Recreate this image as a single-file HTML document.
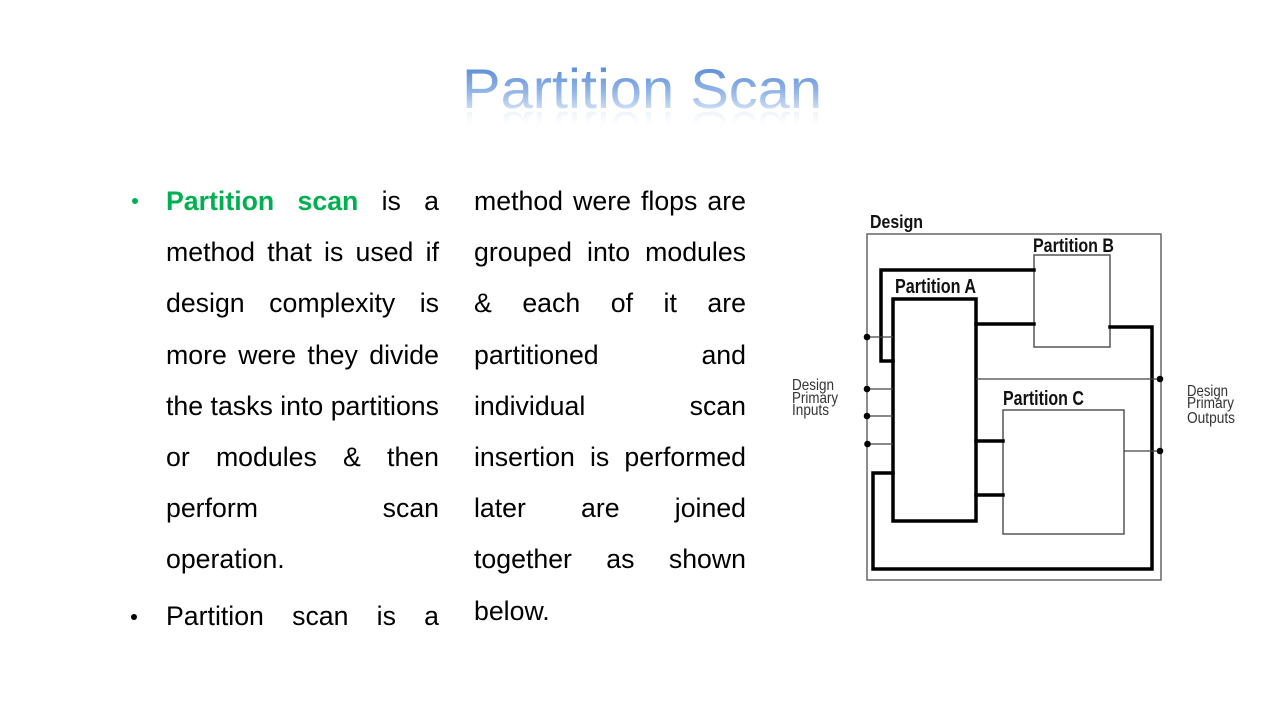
<!DOCTYPE html>
<html>
<head>
<meta charset="utf-8">
<style>
  html, body { margin: 0; padding: 0; }
  body { width: 1280px; height: 720px; background: #ffffff; position: relative; overflow: hidden;
         font-family: "Liberation Sans", Arial, sans-serif; }
  .col { position: absolute; font-size: 26.7px; line-height: 51.2px; color: #000; }
  .ln { display: block; white-space: nowrap; text-align: justify; text-align-last: justify; }
  .ln.last { text-align: left; text-align-last: left; }
  .g { color: #00b050; font-weight: bold; }
  .dot { position: absolute; width: 6.5px; height: 6.5px; border-radius: 50%; }
  svg { position: absolute; left: 0; top: 0; }
</style>
</head>
<body>

<svg width="1280" height="720" viewBox="0 0 1280 720">
  <defs>
    <linearGradient id="tg" gradientUnits="userSpaceOnUse" x1="0" y1="66" x2="0" y2="112">
      <stop offset="0" stop-color="#5a8bd6"/>
      <stop offset="0.55" stop-color="#92b5e7"/>
      <stop offset="1" stop-color="#d6e4f7"/>
    </linearGradient>
    <linearGradient id="rg" gradientUnits="userSpaceOnUse" x1="0" y1="108" x2="0" y2="94">
      <stop offset="0" stop-color="#c9dbf3" stop-opacity="0.3"/>
      <stop offset="1" stop-color="#c9dbf3" stop-opacity="0"/>
    </linearGradient>
  </defs>

  <!-- Title -->
  <text x="462" y="108" font-family="'Liberation Sans', Arial, sans-serif" font-size="56" fill="url(#tg)" textLength="360" lengthAdjust="spacingAndGlyphs">Partition Scan</text>
  <g transform="translate(0,220) scale(1,-1)">
    <text x="462" y="108" font-family="'Liberation Sans', Arial, sans-serif" font-size="56" fill="url(#rg)" textLength="360" lengthAdjust="spacingAndGlyphs">Partition Scan</text>
  </g>

  <!-- Diagram -->
  <g fill="none" stroke-linecap="square" stroke-linejoin="miter">
    <rect x="867" y="234" width="294" height="346" stroke="#666" stroke-width="1.5"/>
    <rect x="1034" y="255" width="76" height="92" stroke="#555" stroke-width="1.5"/>
    <rect x="1003" y="410" width="121" height="124" stroke="#555" stroke-width="1.5"/>
    <rect x="893" y="299" width="83" height="222" stroke="#000" stroke-width="3.5"/>

    <polyline points="1034,270 881,270 881,361 893,361" stroke="#000" stroke-width="3.5"/>
    <line x1="976" y1="324" x2="1034" y2="324" stroke="#000" stroke-width="3.5"/>
    <polyline points="1110,327 1152,327 1152,569 873,569 873,473 893,473" stroke="#000" stroke-width="3.5"/>
    <line x1="976" y1="441" x2="1003" y2="441" stroke="#000" stroke-width="3.5"/>
    <line x1="976" y1="495" x2="1003" y2="495" stroke="#000" stroke-width="3.5"/>

    <g stroke="#444" stroke-width="1.3" stroke-linecap="butt">
      <line x1="867" y1="337" x2="893" y2="337"/>
      <line x1="867" y1="389" x2="893" y2="389"/>
      <line x1="867" y1="416" x2="893" y2="416"/>
      <line x1="867" y1="444" x2="893" y2="444"/>
      <line x1="976" y1="379" x2="1161" y2="379"/>
      <line x1="1124" y1="451" x2="1161" y2="451"/>
    </g>
  </g>
  <g fill="#000">
    <circle cx="867" cy="337" r="3.3"/>
    <circle cx="867" cy="389" r="3.3"/>
    <circle cx="867" cy="416" r="3.3"/>
    <circle cx="867.5" cy="444" r="3.3"/>
    <circle cx="1160" cy="379" r="3.3"/>
    <circle cx="1160" cy="451" r="3.3"/>
  </g>

  <g font-family="'Liberation Sans', Arial, sans-serif" font-weight="bold" fill="#111">
    <text x="870" y="228" font-size="18" textLength="53" lengthAdjust="spacingAndGlyphs">Design</text>
    <text x="1033" y="252" font-size="19.5" textLength="81" lengthAdjust="spacingAndGlyphs">Partition B</text>
    <text x="895" y="293" font-size="20" textLength="81" lengthAdjust="spacingAndGlyphs">Partition A</text>
    <text x="1003" y="405" font-size="20" textLength="81" lengthAdjust="spacingAndGlyphs">Partition C</text>
  </g>
  <g font-family="'Liberation Sans', Arial, sans-serif" fill="#333" font-size="16">
    <text x="792" y="390" textLength="42" lengthAdjust="spacingAndGlyphs">Design</text>
    <text x="792" y="403" textLength="46" lengthAdjust="spacingAndGlyphs">Primary</text>
    <text x="792" y="415" textLength="37" lengthAdjust="spacingAndGlyphs">Inputs</text>
    <text x="1187" y="396" textLength="41" lengthAdjust="spacingAndGlyphs">Design</text>
    <text x="1187" y="408" textLength="47" lengthAdjust="spacingAndGlyphs">Primary</text>
    <text x="1187" y="423" textLength="48" lengthAdjust="spacingAndGlyphs">Outputs</text>
  </g>
</svg>

<div class="dot" style="left:131.75px; top:197.75px; background:#00b050;"></div>
<div class="dot" style="left:130.75px; top:613.75px; background:#000;"></div>

<div class="col" style="left:166px; top:176px; width:273px;">
  <span class="ln"><span class="g">Partition scan</span> is a</span>
  <span class="ln">method that is used if</span>
  <span class="ln">design complexity is</span>
  <span class="ln">more were they divide</span>
  <span class="ln">the tasks into partitions</span>
  <span class="ln">or modules &amp; then</span>
  <span class="ln">perform scan</span>
  <span class="ln last">operation.</span>
</div>
<div class="col" style="left:166px; top:591px; width:273px;">
  <span class="ln">Partition scan is a</span>
</div>

<div class="col" style="left:474px; top:176px; width:272px;">
  <span class="ln">method were flops are</span>
  <span class="ln">grouped into modules</span>
  <span class="ln">&amp; each of it are</span>
  <span class="ln">partitioned and</span>
  <span class="ln">individual scan</span>
  <span class="ln">insertion is performed</span>
  <span class="ln">later are joined</span>
  <span class="ln">together as shown</span>
  <span class="ln last">below.</span>
</div>

</body>
</html>
